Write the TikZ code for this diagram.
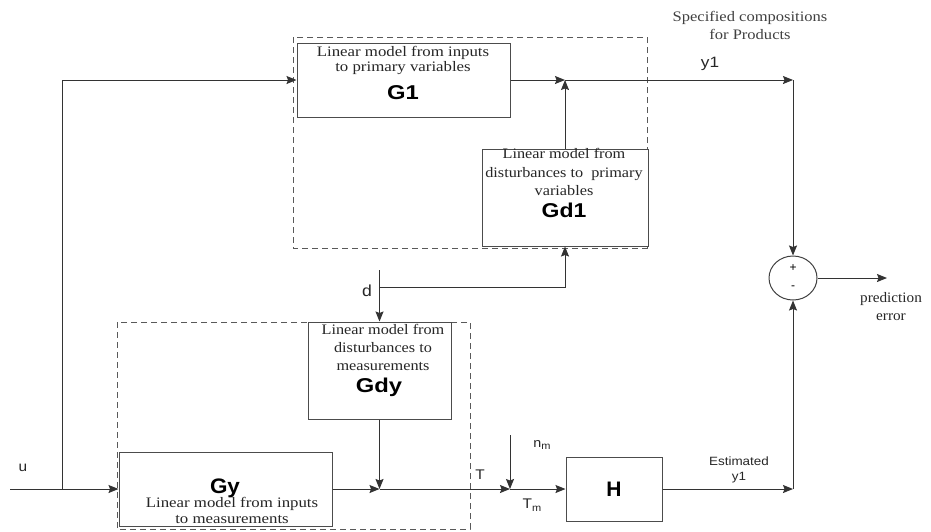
\documentclass[tikz,border=0pt]{standalone}
\usepackage{fontspec}
\usepackage{graphicx}
\setmainfont{Liberation Serif}
\setsansfont{Liberation Sans}
\usetikzlibrary{arrows.meta,shapes.geometric}
\newcommand{\hstr}[2][1.15]{\scalebox{#1}[1]{#2}}
\newcommand{\mlines}[1]{\begin{tabular}{@{}c@{}}#1\end{tabular}}
\tikzset{
 box/.style={draw=black!70, line width=1pt, inner sep=0pt, fill=white},
 conn/.style={draw=black!80, line width=1pt, -{Stealth[length=10pt,width=8pt,inset=1.5pt]}},
 plain/.style={draw=black!80, line width=1pt},
 dsh/.style={draw=black!65, line width=1pt, dash pattern=on 6pt off 4pt},
 txt/.style={inner sep=0pt, text=black!85},
 big/.style={font=\sffamily\bfseries\fontsize{20}{20}\selectfont, inner sep=0pt},
 lbl/.style={font=\sffamily\fontsize{14}{14}\selectfont, inner sep=0pt, text=black!85},
}
\begin{document}
\begin{tikzpicture}[x=1pt,y=-1pt]
\useasboundingbox (0,0) rectangle (931,531);
% dashed groups
\draw[dsh] (293,37) rectangle (647,248);
\draw[dsh] (117,322) rectangle (470,529);
% boxes
\node[box,minimum width=213pt,minimum height=74pt] (G1) at (403.5,80) {};
\node[box,minimum width=166pt,minimum height=97pt] (Gd1) at (565,197.5) {};
\node[box,minimum width=143pt,minimum height=97pt] (Gdy) at (379.5,370.5) {};
\node[box,minimum width=213pt,minimum height=74pt] (Gy) at (225.5,489) {};
\node[box,minimum width=96pt,minimum height=64pt] (H) at (614,489) {};
\node[draw=black!75,line width=1pt,ellipse,minimum width=48pt,minimum height=44pt,inner sep=0pt] (S) at (793,278) {};
% coordinates
\coordinate (uin) at (10,489);
\coordinate (ub) at (62,489);
\coordinate (ut) at (62,80);
\coordinate (J1) at (565,80);
\coordinate (Yc) at (793,80);
\coordinate (J2) at (379.5,489);
\coordinate (J3) at (510,489);
\coordinate (nmt) at (510,435);
\coordinate (dtop) at (379.5,270);
\coordinate (db) at (379.5,287);
\coordinate (EC) at (793,489);
\coordinate (pe) at (887,278);
% connectors
\draw[plain] (uin) -- (ub);
\draw[conn] (ub) -- (Gy.west);
\draw[conn] (ub) -- (ut) -- (G1.west);
\draw[conn] (G1.east) -- (J1);
\draw[conn] (Gd1.north) -- (J1);
\draw[conn] (J1) -- (Yc);
\draw[conn] (Yc) -- (S.north);
\draw[conn] (Gy.east) -- (J2);
\draw[conn] (Gdy.south) -- (J2);
\draw[conn] (J2) -- (J3);
\draw[conn] (nmt) -- (J3);
\draw[conn] (J3) -- (H.west);
\draw[conn] (H.east) -- (EC);
\draw[conn] (EC) -- (S.south);
\draw[conn] (S.east) -- (pe);
\draw[conn] (dtop) -- (Gdy.north);
\draw[conn] (db) -| (Gd1.south);
% box texts
\node[txt,font=\fontsize{14.5}{15}\selectfont] (tG1) at (403,60.5) {\hstr[1.16]{\mlines{Linear model from inputs\\to primary variables}}};
\node[big] (lG1) at (403,93) {\hstr[1.19]{G1}};
\node[txt,font=\fontsize{14.5}{18.5}\selectfont] (tGd1) at (564,173.5) {\hstr[1.12]{\mlines{Linear model from\\disturbances to\ \ primary\\variables}}};
\node[big] (lGd1) at (564,210) {\hstr[1.15]{Gd1}};
\node[txt,font=\fontsize{14.5}{18}\selectfont] (tGdy) at (383,349) {\hstr[1.12]{\mlines{Linear model from\\disturbances to\\measurements}}};
\node[big] (lGdy) at (379,387) {\hstr[1.19]{Gdy}};
\node[big,font=\sffamily\bfseries\fontsize{21}{21}\selectfont] (lGy) at (225,488) {\hstr[1.07]{Gy}};
\node[txt,font=\fontsize{14.5}{16}\selectfont] (tGy) at (232,512) {\hstr[1.16]{\mlines{Linear model from inputs\\to measurements}}};
\node[big,font=\sffamily\bfseries\fontsize{21}{21}\selectfont] (lH) at (614,489) {H};
\node[font=\sffamily\fontsize{12}{12}\selectfont,inner sep=0pt] (plus) at (793,268) {+};
\node[font=\sffamily\fontsize{12}{12}\selectfont,inner sep=0pt] (minus) at (793,288) {-};
% labels
\node[lbl] (lu) at (23,468) {\hstr[1.1]{u}};
\node[lbl,font=\sffamily\fontsize{15}{15}\selectfont] (ly1) at (710,64) {\hstr[1.15]{y1}};
\node[lbl,font=\sffamily\fontsize{16}{16}\selectfont] (ld) at (367,291) {\hstr[1.1]{d}};
\node[lbl] (lT) at (480,475) {\hstr[1.1]{T}};
\node[lbl,font=\sffamily\fontsize{13}{13}\selectfont] (lnm) at (542,445) {\hstr[1.1]{n\raisebox{-2pt}{\fontsize{10}{10}\selectfont m}}};
\node[lbl] (lTm) at (532,505) {\hstr[1.1]{T\raisebox{-3pt}{\fontsize{10}{10}\selectfont m}}};
\node[lbl,font=\sffamily\fontsize{12}{15}\selectfont] (lest) at (739,470) {\hstr[1.12]{\mlines{Estimated\\y1}}};
\node[txt,font=\fontsize{14.5}{18}\selectfont] (lpe) at (891,308) {\hstr[1.05]{\mlines{prediction\\error}}};
\node[txt,font=\fontsize{14.5}{18}\selectfont,text=black!75] (lspec) at (750,27) {\hstr[1.14]{\mlines{Specified compositions\\for Products}}};
\end{tikzpicture}
\end{document}
